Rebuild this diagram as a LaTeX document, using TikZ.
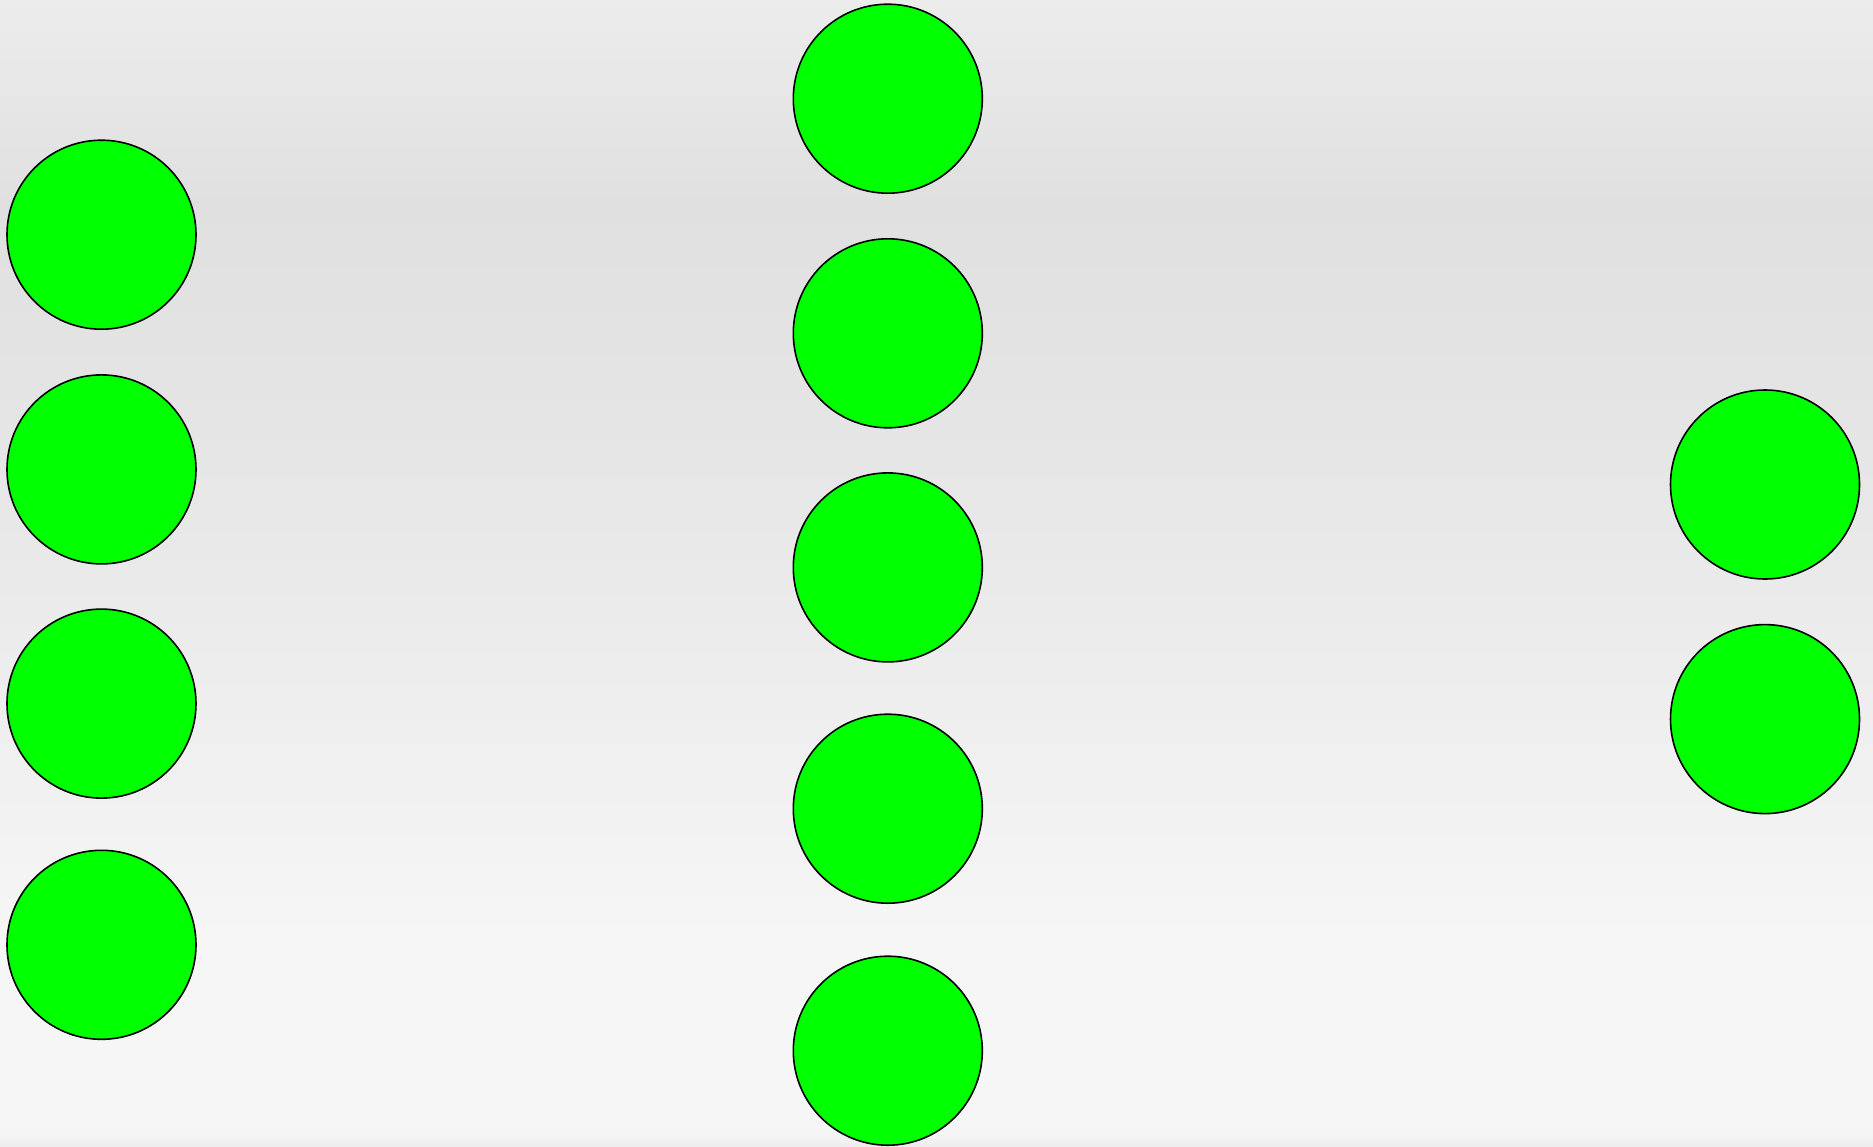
\documentclass[tikz,border=0pt]{standalone}
\usepackage{xcolor}
\usepackage{tikz}
\usetikzlibrary{positioning}
\definecolor{nodegreen}{RGB}{0,255,0}
\definecolor{bgtop}{RGB}{236,236,236}
\definecolor{bgdark}{RGB}{224,224,224}
\definecolor{bgmid}{RGB}{230,230,230}
\definecolor{bglight}{RGB}{246,246,246}
\definecolor{bgbottom}{RGB}{237,237,237}
\pgfdeclareverticalshading{bgshade}{100bp}{color(0bp)=(bgbottom); color(25bp)=(bgbottom); color(25.6bp)=(bglight); color(34bp)=(bglight); color(55bp)=(bgmid); color(66bp)=(bgdark); color(75bp)=(bgtop); color(100bp)=(bgtop)}
\tikzset{
  neuron/.style={circle, minimum size=189pt, inner sep=0pt, draw=black, fill=nodegreen, line width=1.6pt},
}

\begin{document}
\begin{tikzpicture}[x=1pt, y=-1pt]
\shade[shading=bgshade] (0,0) rectangle (1873,1146);
\useasboundingbox (0,0) rectangle (1873,1146);
% input layer
\node (in1) [neuron] at (101.5,234.7) {};
\node (in2) [neuron] at (101.5,469.4) {};
\node (in3) [neuron] at (101.5,703.6) {};
\node (in4) [neuron] at (101.5,944.8) {};
% hidden layer
\node (h1) [neuron] at (887.8,98.7) {};
\node (h2) [neuron] at (887.8,333.3) {};
\node (h3) [neuron] at (887.8,567.4) {};
\node (h4) [neuron] at (887.8,808.7) {};
\node (h5) [neuron] at (887.8,1050.7) {};
% output layer
\node (out1) [neuron] at (1765,484.5) {};
\node (out2) [neuron] at (1765,719.1) {};
\end{tikzpicture}
\end{document}
